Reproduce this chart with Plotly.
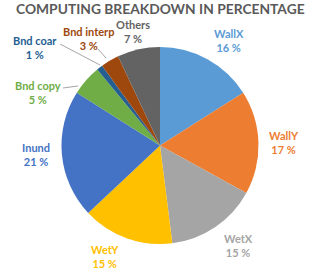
import plotly.graph_objects as go

# Data
categories = ["WallX", "WallY", "WetX", "WetY", "Inund", "Bnd copy", "Bnd coar", "Bnd interp", "Others"]
percentages = [16, 17, 15, 15, 21, 5, 1, 3, 7]
title_text = "COMPUTING BREAKDOWN IN PERCENTAGE"

# Styles
colors = ["#5B9BD5", "#ED7D31", "#A5A5A5", "#FFC000", "#4472C4",
          "#70AD47", "#255E91", "#9E480E", "#636363"]
W, H = 320, 269
# label centre positions in pixels (style/layout only)
label_pos = [(229, 41), (284, 142), (238, 245), (105, 256), (36, 154),
             (38, 92), (35, 47), (88, 38), (133, 31)]
# leader lines in pixels
leaders = [((60, 44), (100, 65)), ((98, 49), (106, 58)), ((63, 88), (78, 86))]

def px(x, y):
    return x / W, 1 - y / H

fig = go.Figure(go.Pie(
    labels=categories,
    values=percentages,
    sort=False,
    direction="clockwise",
    rotation=0,
    marker=dict(colors=colors, line=dict(width=0)),
    textinfo="none",
    hoverinfo="label+percent",
    domain=dict(x=[60 / W, 260 / W], y=[1 - 244 / H, 1 - 47 / H]),
    showlegend=False,
))

annotations = []
for cat, val, col, (lx, ly) in zip(categories, percentages, colors, label_pos):
    x, y = px(lx, ly)
    annotations.append(dict(
        x=x, y=y, xref="paper", yref="paper", showarrow=False,
        text=f"{cat}<br>{val} %", align="center",
        font=dict(family="Lato", size=11, color=col, weight="bold"),
        xanchor="center", yanchor="middle",
    ))
annotations.append(dict(
    x=0.5, y=1 - 8.5 / H, xref="paper", yref="paper", showarrow=False,
    text=title_text, font=dict(family="Lato", size=13.8, color="#595959", weight="bold"),
    xanchor="center", yanchor="middle", borderpad=0,
))

shapes = []
for (a, b) in leaders:
    x0, y0 = px(*a)
    x1, y1 = px(*b)
    shapes.append(dict(type="line", xref="paper", yref="paper", x0=x0, y0=y0, x1=x1, y1=y1,
                       line=dict(color="#A6A6A6", width=1)))

fig.update_layout(
    width=W, height=H, autosize=False,
    margin=dict(l=0, r=0, t=0, b=0),
    paper_bgcolor="white", plot_bgcolor="white",
    annotations=annotations, shapes=shapes,
)

fig.write_html("out.html", config={"displayModeBar": False},
               post_script="document.body.style.margin='0';document.body.style.overflow='hidden';")
